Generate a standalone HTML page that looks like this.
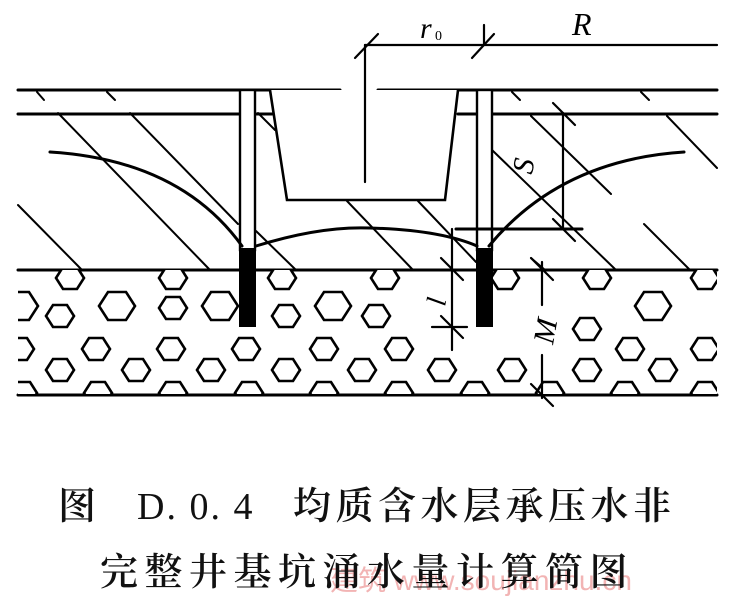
<!DOCTYPE html>
<html><head><meta charset="utf-8"><style>
html,body{margin:0;padding:0;background:#fff;width:733px;height:600px;overflow:hidden}
svg{position:absolute;left:0;top:0}
.cap{position:absolute;font-family:"Liberation Serif","Noto Serif CJK SC",serif;font-size:38px;font-weight:600;color:#111;white-space:nowrap;line-height:1}
</style></head><body>
<div style="position:absolute;left:330px;top:559px;font-family:'Liberation Sans','Noto Sans CJK SC',sans-serif;font-size:28px;color:#f2b4b4;white-space:nowrap">建筑 www.soujianzhu.cn</div>
<svg width="733" height="600" viewBox="0 0 733 600" xmlns="http://www.w3.org/2000/svg">
<defs>
<clipPath id="aq"><rect x="18" y="270" width="699" height="124"/></clipPath>
<polygon id="hs" points="-14,0 -7,-11 7,-11 14,0 7,11 -7,11" fill="#fff" stroke="#000" stroke-width="2.6"/>
<polygon id="hb" points="-18,0 -9,-14 9,-14 18,0 9,14 -9,14" fill="#fff" stroke="#000" stroke-width="2.6"/>
</defs>
<g stroke="#000" fill="none" stroke-linecap="round">
<g stroke-width="2">
<line x1="58" y1="113" x2="210" y2="270"/>
<line x1="130" y1="113" x2="238" y2="224"/>
<line x1="18" y1="205" x2="82" y2="270"/>
<line x1="256" y1="231" x2="296" y2="270"/>
<line x1="258" y1="113" x2="275" y2="130"/>
<line x1="347" y1="201" x2="413" y2="270"/>
<line x1="418" y1="201" x2="476" y2="262"/>
<line x1="492" y1="150" x2="616" y2="270"/>
<line x1="531" y1="116" x2="611" y2="194"/>
<line x1="667" y1="116" x2="717" y2="168"/>
<line x1="644" y1="224" x2="690" y2="270"/>
<line x1="531" y1="258" x2="545" y2="270"/>
<line x1="37" y1="92" x2="44" y2="100"/>
<line x1="107" y1="92" x2="115" y2="100"/>
<line x1="512" y1="92" x2="520" y2="100"/>
<line x1="641" y1="92" x2="649" y2="100"/>
</g>
<g stroke-width="3">
<line x1="18" y1="90" x2="340" y2="90"/>
<line x1="378" y1="90" x2="717" y2="90"/>
<line x1="18" y1="114" x2="272" y2="114"/>
<line x1="458" y1="114" x2="717" y2="114"/>
<line x1="18" y1="270" x2="717" y2="270"/>
<line x1="18" y1="395" x2="717" y2="395"/>
</g>
</g>
<g clip-path="url(#aq)">
<use href="#hs" x="70" y="278"/><use href="#hs" x="173" y="278"/><use href="#hs" x="282" y="278"/><use href="#hs" x="385" y="278"/><use href="#hs" x="505" y="278"/><use href="#hs" x="597" y="278"/><use href="#hs" x="705" y="278"/>
<use href="#hb" x="20" y="306"/><use href="#hb" x="117" y="306"/><use href="#hb" x="220" y="306"/><use href="#hb" x="333" y="306"/><use href="#hb" x="653" y="306"/>
<use href="#hs" x="173" y="308"/>
<use href="#hs" x="60" y="316"/><use href="#hs" x="286" y="316"/><use href="#hs" x="376" y="316"/>
<use href="#hs" x="587" y="329"/>
<use href="#hs" x="20" y="349"/><use href="#hs" x="96" y="349"/><use href="#hs" x="171" y="349"/><use href="#hs" x="246" y="349"/><use href="#hs" x="324" y="349"/><use href="#hs" x="399" y="349"/><use href="#hs" x="630" y="349"/><use href="#hs" x="705" y="349"/>
<use href="#hs" x="60" y="370"/><use href="#hs" x="136" y="370"/><use href="#hs" x="211" y="370"/><use href="#hs" x="286" y="370"/><use href="#hs" x="362" y="370"/><use href="#hs" x="442" y="370"/><use href="#hs" x="512" y="370"/><use href="#hs" x="587" y="370"/><use href="#hs" x="663" y="370"/>
<use href="#hs" x="23" y="393"/><use href="#hs" x="98" y="393"/><use href="#hs" x="173" y="393"/><use href="#hs" x="249" y="393"/><use href="#hs" x="324" y="393"/><use href="#hs" x="399" y="393"/><use href="#hs" x="475" y="393"/><use href="#hs" x="550" y="393"/><use href="#hs" x="625" y="393"/><use href="#hs" x="705" y="393"/>
</g>
<g stroke="#000" fill="none" stroke-linecap="round">
<polyline points="270,90 287,200 445,200 458,90" fill="#fff" stroke-width="2.6"/>
<rect x="240" y="90" width="15" height="160" fill="#fff" stroke-width="2.4"/>
<rect x="477" y="90" width="15" height="160" fill="#fff" stroke-width="2.4"/>
<rect x="239" y="248" width="17" height="79" fill="#000" stroke="none"/>
<rect x="476" y="248" width="17" height="79" fill="#000" stroke="none"/>
<g stroke-width="3">
<path d="M50,152 Q180,160 242,246"/>
<path d="M489,246 Q560,160 684,152"/>
<path d="M256,246 Q320,226 370,228 Q440,230 477,246"/>
<line x1="456" y1="229" x2="582" y2="229"/>
</g>
<g stroke-width="2.2">
<line x1="365" y1="45" x2="717" y2="45"/>
<line x1="365" y1="45" x2="365" y2="182"/>
<line x1="355" y1="58" x2="378" y2="34"/>
<line x1="472" y1="58" x2="494" y2="34"/>
<line x1="484" y1="25" x2="484" y2="45"/>
<line x1="563" y1="113" x2="563" y2="229"/>
<line x1="553" y1="103" x2="575" y2="125"/>
<line x1="553" y1="219" x2="575" y2="241"/>
<line x1="452" y1="229" x2="452" y2="350"/>
<line x1="441" y1="258" x2="463" y2="280"/>
<line x1="441" y1="316" x2="463" y2="338"/>
<line x1="432" y1="327" x2="467" y2="327"/>
<line x1="542" y1="262" x2="542" y2="305"/>
<line x1="542" y1="355" x2="542" y2="398"/>
<line x1="531" y1="258" x2="553" y2="280"/>
<line x1="531" y1="384" x2="553" y2="406"/>
</g>
</g>
<g font-family="Liberation Serif, serif" font-style="italic" fill="#000">
<text x="420" y="38" font-size="30">r</text>
<text x="435" y="40" font-size="14" font-style="normal">0</text>
<text x="572" y="35" font-size="32">R</text>
<text x="0" y="0" font-size="30" transform="translate(532,175) rotate(-80)">S</text>
<text x="0" y="0" font-size="28" transform="translate(445,307) rotate(-80)">l</text>
<text x="0" y="0" font-size="30" transform="translate(553,345) rotate(-80)">M</text>
</g>
</svg>
<div class="cap" style="left:58px;top:488px;">图</div>
<div class="cap" style="left:137px;top:488px;font-weight:normal;letter-spacing:2px">D. 0. 4</div>
<div class="cap" style="left:293px;top:488px;letter-spacing:4.5px">均质含水层承压水非</div>
<div class="cap" style="left:100px;top:554px;letter-spacing:6.5px">完整井基坑涌水量计算简图</div>
</body></html>
